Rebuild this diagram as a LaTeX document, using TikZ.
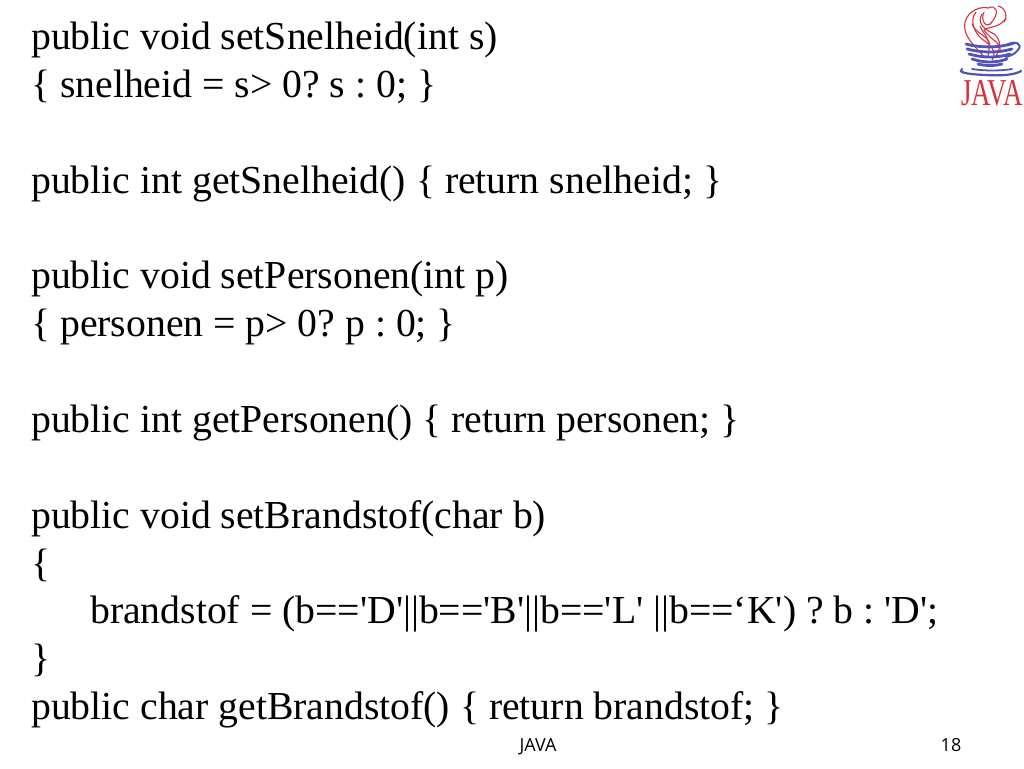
\documentclass[tikz,border=0pt]{standalone}
\usepackage{fontspec}
\newfontfamily\codef{Liberation Serif}
\newfontfamily\sansf{Open Sans}
\definecolor{javablue}{RGB}{82,82,190}
\definecolor{javared}{RGB}{214,50,60}
\frenchspacing
\tikzset{
  codeline/.style={anchor=base west,inner sep=0pt,font=\codef\frenchspacing\fontsize{39.7pt}{39.7pt}\selectfont},
  foot/.style={anchor=base,inner sep=0pt,font=\sansf\fontsize{18pt}{18pt}\selectfont},
  steam/.style={draw=javared,line width=1.1pt,line cap=round},
  cupline/.style={draw=javablue,line width=2.8pt,line cap=round}
}
\begin{document}
\begin{tikzpicture}[x=1pt,y=-1pt]
\useasboundingbox (0,0) rectangle (1024,768);
\node[codeline] (l1) at (31,49) {public void setSnelheid(int s)};
\node[codeline] (l2) at (31,97) {\{ snelheid = s> 0? s : 0; \}};
\node[codeline] (l3) at (31,193) {public int getSnelheid() \{ return snelheid; \}};
\node[codeline] (l4) at (31,288) {public void setPersonen(int p)};
\node[codeline] (l5) at (31,336) {\{ personen = p> 0? p : 0; \}};
\node[codeline] (l6) at (31,432) {public int getPersonen() \{ return personen; \}};
\node[codeline] (l7) at (31,528) {public void setBrandstof(char b)};
\node[codeline] (l8) at (31,576) {\{};
\node[codeline] (l9) at (90,623) {brandstof = (b=='D'||b=='B'||b=='L' ||b==‘K') ? b : 'D';};
\node[codeline] (l10) at (31,671) {\}};
\node[codeline] (l11) at (31,719) {public char getBrandstof() \{ return brandstof; \}};
\node[foot] (f1) at (538,751) {JAVA};
\node[foot] (f2) at (951,751) {18};
% logo: steam
\draw[steam] (985,58) .. controls (975,46) and (962,36) .. (965,22) .. controls (968,10) and (982,6) .. (988,8);
\draw[steam] (988,8) .. controls (996,4) and (1000,12) .. (992,22) .. controls (986,30) and (980,20) .. (984,12);
\draw[steam] (976,12) .. controls (968,22) and (976,36) .. (986,42) .. controls (994,48) and (996,54) .. (992,60);
\draw[steam] (982,14) .. controls (976,24) and (986,30) .. (994,34) .. controls (1002,40) and (1000,50) .. (996,56);
\draw[steam] (1006,18) .. controls (1000,28) and (990,26) .. (984,30) .. controls (990,40) and (1002,42) .. (1000,52);
\draw[steam] (972,24) .. controls (976,34) and (986,34) .. (990,44);
\draw[steam] (998,6) .. controls (1006,8) and (1008,16) .. (1004,22);
\draw[steam] (980,26) .. controls (984,36) and (992,38) .. (988,56);
% logo: cup
\draw[cupline] (966,44) .. controls (980,48) and (1000,48) .. (1014,43);
\draw[cupline] (967,49) .. controls (982,53) and (998,53) .. (1012,49);
\draw[cupline] (969,54) .. controls (982,58) and (998,58) .. (1010,54);
\draw[cupline] (972,59) .. controls (984,63) and (996,63) .. (1007,59);
\draw[cupline] (978,64) .. controls (986,66) and (994,66) .. (1002,64);
\draw[cupline,line width=2pt] (1006,45) .. controls (1016,40) and (1023,44) .. (1018,50) .. controls (1015,54) and (1010,56) .. (1006,57);
\draw[cupline,line width=2.2pt] (962,69) .. controls (958,72) and (964,74) .. (985,75) .. controls (1000,76) and (1015,75) .. (1021,71);
\draw[cupline,line width=1.8pt] (972,69) .. controls (985,71) and (1000,71) .. (1012,69);
% logo: wordmark
\node[anchor=base,inner sep=0pt,text=javared,font=\codef\fontsize{38pt}{38pt}\selectfont,xscale=0.71] (logo) at (992,105) {JAVA};
\end{tikzpicture}
\end{document}
